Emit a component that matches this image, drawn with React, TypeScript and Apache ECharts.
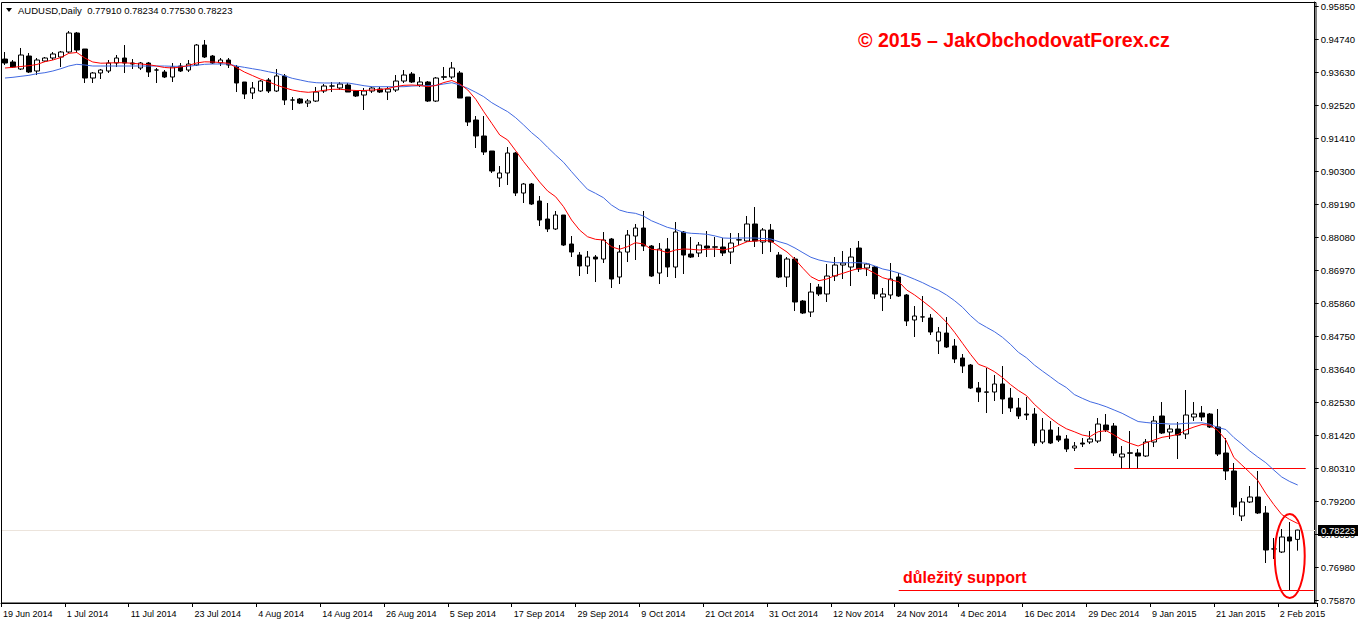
import React, { useEffect, useRef } from "react";
import * as echarts from "echarts";

const dates = [
"19 Jun 2014","20 Jun 2014","23 Jun 2014","24 Jun 2014","25 Jun 2014","26 Jun 2014","27 Jun 2014","30 Jun 2014",
"1 Jul 2014","2 Jul 2014","3 Jul 2014","4 Jul 2014","7 Jul 2014","8 Jul 2014","9 Jul 2014","10 Jul 2014",
"11 Jul 2014","14 Jul 2014","15 Jul 2014","16 Jul 2014","17 Jul 2014","18 Jul 2014","21 Jul 2014","22 Jul 2014",
"23 Jul 2014","24 Jul 2014","25 Jul 2014","28 Jul 2014","29 Jul 2014","30 Jul 2014","31 Jul 2014","1 Aug 2014",
"4 Aug 2014","5 Aug 2014","6 Aug 2014","7 Aug 2014","8 Aug 2014","11 Aug 2014","12 Aug 2014","13 Aug 2014",
"14 Aug 2014","15 Aug 2014","18 Aug 2014","19 Aug 2014","20 Aug 2014","21 Aug 2014","22 Aug 2014","25 Aug 2014",
"26 Aug 2014","27 Aug 2014","28 Aug 2014","29 Aug 2014","1 Sep 2014","2 Sep 2014","3 Sep 2014","4 Sep 2014",
"5 Sep 2014","8 Sep 2014","9 Sep 2014","10 Sep 2014","11 Sep 2014","12 Sep 2014","15 Sep 2014","16 Sep 2014",
"17 Sep 2014","18 Sep 2014","19 Sep 2014","22 Sep 2014","23 Sep 2014","24 Sep 2014","25 Sep 2014","26 Sep 2014",
"29 Sep 2014","30 Sep 2014","1 Oct 2014","2 Oct 2014","3 Oct 2014","6 Oct 2014","7 Oct 2014","8 Oct 2014",
"9 Oct 2014","10 Oct 2014","13 Oct 2014","14 Oct 2014","15 Oct 2014","16 Oct 2014","17 Oct 2014","20 Oct 2014",
"21 Oct 2014","22 Oct 2014","23 Oct 2014","24 Oct 2014","27 Oct 2014","28 Oct 2014","29 Oct 2014","30 Oct 2014",
"31 Oct 2014","3 Nov 2014","4 Nov 2014","5 Nov 2014","6 Nov 2014","7 Nov 2014","10 Nov 2014","11 Nov 2014",
"12 Nov 2014","13 Nov 2014","14 Nov 2014","17 Nov 2014","18 Nov 2014","19 Nov 2014","20 Nov 2014","21 Nov 2014",
"24 Nov 2014","25 Nov 2014","26 Nov 2014","27 Nov 2014","28 Nov 2014","1 Dec 2014","2 Dec 2014","3 Dec 2014",
"4 Dec 2014","5 Dec 2014","8 Dec 2014","9 Dec 2014","10 Dec 2014","11 Dec 2014","12 Dec 2014","15 Dec 2014",
"16 Dec 2014","17 Dec 2014","18 Dec 2014","19 Dec 2014","22 Dec 2014","23 Dec 2014","24 Dec 2014","26 Dec 2014",
"29 Dec 2014","30 Dec 2014","31 Dec 2014","2 Jan 2015","5 Jan 2015","6 Jan 2015","7 Jan 2015","8 Jan 2015",
"9 Jan 2015","12 Jan 2015","13 Jan 2015","14 Jan 2015","15 Jan 2015","16 Jan 2015","19 Jan 2015","20 Jan 2015",
"21 Jan 2015","22 Jan 2015","23 Jan 2015","26 Jan 2015","27 Jan 2015","28 Jan 2015","29 Jan 2015","30 Jan 2015",
"2 Feb 2015","3 Feb 2015","4 Feb 2015"];

const openP = [
.94067,.93967,.93731,.94168,.93664,.94000,.94101,.94135,
.94303,.94942,.94404,.93428,.93597,.93664,.93933,.94101,
.93933,.93765,.93933,.93697,.93630,.93462,.93832,.93697,
.93866,.94538,.94168,.93933,.94034,.93798,.93294,.92924,
.92991,.93361,.92991,.93496,.92688,.92722,.92587,.92654,
.92991,.93159,.93092,.93193,.92991,.92856,.92991,.93058,
.92957,.93025,.93327,.93563,.93193,.93294,.92654,.93470,
.93462,.93597,.92789,.92016,.91478,.90973,.90065,.90233,
.90906,.89560,.89863,.89291,.88686,.88350,.88820,.87845,
.87474,.87105,.87407,.87340,.88013,.86735,.87575,.88114,
.88383,.87777,.86869,.87676,.87071,.88248,.87508,.87542,
.87777,.87750,.87744,.87575,.87979,.87946,.88518,.87912,
.88316,.87474,.86735,.87340,.85927,.85557,.86398,.86163,
.86768,.87138,.87071,.87710,.87037,.87071,.86062,.86130,
.86735,.86130,.85289,.85389,.85356,.84582,.84851,.84414,
.84010,.83775,.83001,.82870,.82867,.83136,.82665,.82329,
.82127,.82127,.81185,.81589,.81387,.81286,.80983,.81151,
.81185,.81218,.81757,.81723,.80680,.80820,.80815,.80714,
.81185,.82060,.81521,.81622,.81454,.82026,.82160,.82127,
.81689,.80815,.80210,.78696,.79167,.79335,.78797,.77586,
.77485,.77990,.77910];

const closeP = [
.93933,.93798,.94202,.93630,.94034,.94101,.94236,.94303,
.94942,.94370,.93428,.93597,.93697,.93933,.94101,.93933,
.93899,.93933,.93630,.93697,.93462,.93798,.93664,.93899,
.94538,.94135,.93933,.94034,.93866,.93260,.92890,.93092,
.93327,.92991,.93496,.92688,.92688,.92587,.92654,.92957,
.93159,.93159,.93226,.92957,.92823,.92991,.93092,.92957,
.93058,.93327,.93529,.93294,.93294,.92654,.93428,.93455,
.93765,.92755,.91948,.91478,.90940,.90300,.90233,.90906,
.89560,.89863,.89190,.88652,.88350,.88820,.87811,.87575,
.87105,.87407,.87340,.87979,.86667,.87575,.88147,.88383,
.87777,.86768,.87676,.87071,.88248,.87474,.87407,.87811,
.87710,.87738,.87542,.87878,.87990,.88518,.87946,.88316,
.87912,.86735,.87340,.85894,.85524,.86230,.86163,.86768,
.87138,.87206,.87407,.87004,.87172,.86163,.86163,.86667,
.86096,.85255,.85423,.85395,.84885,.84885,.84380,.83977,
.83741,.83001,.82867,.82860,.83136,.82632,.82329,.82060,
.82093,.81151,.81589,.81151,.81252,.80949,.81050,.81117,
.81286,.81790,.81589,.80815,.80781,.80810,.80714,.81185,
.81891,.81488,.81622,.81420,.82093,.82127,.82026,.81689,
.80781,.80210,.78998,.79167,.79335,.78797,.77552,.77590,
.77990,.77855,.78223];

const lowP = [
.93866,.93765,.93697,.93597,.93529,.93967,.94034,.93798,
.94270,.94270,.93260,.93260,.93395,.93597,.93798,.93597,
.93731,.93697,.93462,.93260,.93428,.93294,.93630,.93630,
.93832,.94101,.93899,.93832,.93765,.92957,.92722,.92722,
.92957,.92924,.92957,.92520,.92352,.92553,.92453,.92621,
.92924,.92957,.93025,.92957,.92789,.92352,.92924,.92924,
.92688,.92957,.93260,.93260,.93126,.92621,.92621,.93361,
.93395,.92755,.91814,.91074,.90839,.90233,.89762,.89830,
.89459,.89224,.89157,.88450,.88248,.88316,.87777,.87407,
.86768,.86836,.86566,.87206,.86365,.86499,.87239,.87307,
.87609,.86735,.86499,.86735,.86701,.86836,.87374,.87407,
.87407,.87407,.87441,.87172,.87811,.87912,.87744,.87508,
.87575,.86701,.86398,.85591,.85490,.85389,.86096,.85894,
.86600,.86667,.86432,.86903,.86768,.85995,.85591,.85995,
.86062,.85087,.84717,.85221,.84784,.84145,.84347,.83842,
.83506,.82968,.82530,.82160,.82564,.82127,.82194,.81959,
.81925,.81050,.81117,.81117,.81185,.80848,.80882,.81016,
.81117,.81151,.81521,.80714,.80300,.80300,.80300,.80680,
.81016,.81454,.81286,.80613,.81286,.81891,.81891,.81656,
.80714,.79907,.78730,.78528,.79133,.78763,.77115,.77250,
.77451,.76207,.77530];

const highP = [
.94303,.94034,.94438,.94270,.94101,.94135,.94303,.94337,
.95009,.94976,.94404,.93630,.93731,.94034,.94202,.94538,
.94067,.93967,.93967,.93765,.93697,.93933,.93933,.94034,
.94572,.94707,.94202,.94101,.94101,.93866,.93294,.93294,
.93361,.93428,.93731,.93563,.92789,.92755,.92722,.93126,
.93226,.93294,.93294,.93260,.93025,.93092,.93126,.93126,
.93126,.93529,.93697,.93630,.93462,.93327,.93462,.93798,
.93967,.93664,.92789,.92150,.92150,.90973,.90468,.91107,
.90940,.89897,.89897,.89459,.89224,.88955,.88820,.88114,
.87575,.87609,.87474,.88248,.88047,.87811,.88316,.88518,
.88955,.87811,.87878,.88047,.88585,.88282,.88080,.87912,
.88282,.88080,.88047,.88215,.88215,.88787,.89089,.88383,
.88518,.87575,.87407,.87407,.85961,.86533,.86499,.87172,
.87407,.87609,.87710,.87946,.87206,.87105,.86365,.87206,
.86869,.86163,.85759,.86096,.85490,.85053,.85389,.84650,
.84145,.83808,.83203,.83674,.83439,.83741,.83001,.82665,
.82699,.82329,.81992,.81891,.81689,.81420,.81185,.81319,
.81555,.81992,.82127,.81824,.81050,.81555,.80949,.81286,
.82060,.82530,.81757,.81858,.82934,.82530,.82396,.82160,
.82295,.81319,.80478,.79301,.79705,.80210,.79032,.77956,
.78259,.78494,.78234];

const maFast = [
.93765,.93788,.93815,.93842,.93883,.93977,.94034,.94118,
.94259,.94286,.94101,.93967,.93926,.93933,.93943,.93940,
.93923,.93899,.93876,.93832,.93782,.93765,.93798,.93849,
.93933,.93973,.93967,.93950,.93923,.93782,.93630,.93512,
.93395,.93304,.93193,.93102,.93025,.92974,.92947,.92974,
.93015,.93048,.93048,.93025,.93008,.93008,.93025,.93042,
.93075,.93142,.93183,.93193,.93176,.93136,.93176,.93277,
.93344,.93227,.93025,.92712,.92295,.91905,.91511,.91343,
.90983,.90613,.90277,.89930,.89628,.89436,.89099,.88652,
.88316,.88090,.88003,.87979,.87754,.87667,.87754,.87889,
.87845,.87667,.87643,.87552,.87643,.87677,.87667,.87643,
.87667,.87677,.87643,.87700,.87811,.87922,.87946,.87963,
.87946,.87754,.87576,.87330,.87027,.86745,.86610,.86668,
.86779,.86859,.86947,.87027,.87004,.86859,.86711,.86634,
.86577,.86298,.86129,.85928,.85716,.85480,.85211,.84875,
.84505,.84135,.83798,.83698,.83550,.83354,.83119,.82917,
.82749,.82453,.82211,.81992,.81790,.81632,.81531,.81420,
.81370,.81531,.81565,.81420,.81252,.81141,.81050,.81161,
.81252,.81343,.81387,.81437,.81589,.81689,.81773,.81747,
.81572,.81252,.80663,.80411,.80159,.79890,.79459,.79083,
.78746,.78578,.78444];

const maSlow = [
.93428,.93452,.93486,.93519,.93573,.93607,.93664,.93741,
.93832,.93889,.93866,.93832,.93832,.93832,.93832,.93832,
.93832,.93832,.93832,.93832,.93832,.93822,.93822,.93822,
.93856,.93889,.93899,.93899,.93899,.93832,.93788,.93741,
.93697,.93640,.93587,.93506,.93418,.93361,.93304,.93270,
.93260,.93260,.93260,.93260,.93216,.93169,.93136,.93136,
.93136,.93136,.93136,.93159,.93169,.93169,.93183,.93227,
.93270,.93193,.93082,.92947,.92799,.92598,.92443,.92295,
.92093,.91848,.91589,.91367,.91097,.90838,.90593,.90277,
.89974,.89685,.89550,.89402,.89157,.88988,.88911,.88877,
.88787,.88629,.88518,.88407,.88339,.88238,.88205,.88191,
.88171,.88114,.88047,.88037,.88047,.88047,.88047,.88030,
.88013,.87922,.87845,.87710,.87552,.87398,.87307,.87250,
.87216,.87216,.87216,.87216,.87196,.87105,.87004,.86947,
.86869,.86769,.86658,.86543,.86409,.86288,.86129,.85938,
.85716,.85433,.85198,.85043,.84895,.84707,.84471,.84202,
.84020,.83775,.83573,.83381,.83180,.83018,.82783,.82655,
.82540,.82463,.82372,.82261,.82150,.82009,.81874,.81841,
.81814,.81807,.81790,.81790,.81814,.81824,.81831,.81780,
.81673,.81605,.81336,.81118,.80882,.80680,.80489,.80243,
.80008,.79856,.79739];

const priceTicks = [0.75870, 0.76980, 0.78090, 0.79200, 0.80310, 0.81420, 0.82530, 0.83640, 0.84750,
  0.85860, 0.86970, 0.88080, 0.89190, 0.90300, 0.91410, 0.92520, 0.93630, 0.94740, 0.95850];

const symbolName = "AUDUSD,Daily";
const lastBar = { open: 0.77910, high: 0.78234, low: 0.77530, close: 0.78223 };
const supportLevel = 0.76207;
const resistanceLevel = 0.80310;
const watermark = "© 2015 – JakObchodovatForex.cz";
const supportText = "důležitý support";

const FONT = "'Liberation Sans', Arial, sans-serif";

export default function App() {
  const ref = useRef<HTMLDivElement>(null);
  useEffect(() => {
    const chart = echarts.init(ref.current!, null, { renderer: "svg" });
    const candles = openP.map((o, i) => [o, closeP[i], lowP[i], highP[i]]);
    const cats = [...dates, "", ""];
    chart.setOption({
      animation: false,
      backgroundColor: "#ffffff",
      grid: { left: -1, top: 2, width: 1320, height: 601, show: false },
      xAxis: {
        type: "category",
        data: cats,
        boundaryGap: true,
        axisLine: { show: true, lineStyle: { color: "#000", width: 1 } },
        axisTick: { show: true, interval: 7, alignWithLabel: false, length: 4, lineStyle: { color: "#000" } },
        axisLabel: { interval: 7, align: "left", color: "#000", fontSize: 9, fontFamily: FONT, margin: 6, padding: [0, 0, 0, -2] },
        splitLine: { show: false },
      },
      yAxis: {
        type: "value",
        position: "right",
        offset: -3,
        min: 0.7577,
        max: 0.95985,
        scale: true,
        axisLine: { show: true, lineStyle: { color: "#000", width: 1 } },
        axisTick: { show: true, customValues: priceTicks, length: 4, lineStyle: { color: "#000" } },
        axisLabel: {
          customValues: priceTicks,
          formatter: (v: number) => v.toFixed(5),
          color: "#000",
          fontSize: 9.5,
          fontFamily: FONT,
          margin: 6,
        },
        splitLine: { show: false },
      },
      series: [
        {
          type: "candlestick",
          data: candles,
          barWidth: 5,
          itemStyle: { color: "#ffffff", color0: "#000000", borderColor: "#000000", borderColor0: "#000000", borderWidth: 1 },
          markLine: {
            silent: true,
            symbol: ["none", "none"],
            label: { show: false },
            data: [
              [{ yAxis: lastBar.close, x: 1, lineStyle: { color: "#ece4dc", width: 1, type: "solid" } }, { yAxis: lastBar.close, x: 1316 }],
              [{ coord: [112, supportLevel], lineStyle: { color: "#ff0000", width: 1, type: "solid" } }, { coord: [164, supportLevel] }],
              [{ coord: [134, resistanceLevel], lineStyle: { color: "#ff0000", width: 1, type: "solid" } }, { coord: [163, resistanceLevel] }],
            ],
            z: 1,
          },
          z: 2,
        },
        {
          type: "line",
          data: maSlow,
          showSymbol: false,
          symbol: "none",
          lineStyle: { color: "#4169e1", width: 1 },
          z: 3,
        },
        {
          type: "line",
          data: maFast,
          showSymbol: false,
          symbol: "none",
          lineStyle: { color: "#ff0000", width: 1 },
          z: 4,
        },
      ],
    });

    const c = chart.convertToPixel({ gridIndex: 0 }, [161, 0.7735]) as number[];
    chart.setOption({
      graphic: [
        { id: "frame", type: "rect", shape: { x: 1.5, y: 2.5, width: 1314.5, height: 600.5 }, style: { fill: "none", stroke: "#000", lineWidth: 1 }, z: 50, silent: true },
        { id: "tri", type: "polygon", shape: { points: [[6, 8], [12, 8], [9, 12]] }, style: { fill: "#000" }, z: 50 },
        { id: "hdr", type: "text", x: 18, y: 10, style: { text: `${symbolName}  ${lastBar.open.toFixed(5)} ${lastBar.high.toFixed(5)} ${lastBar.low.toFixed(5)} ${lastBar.close.toFixed(5)}`, fill: "#000", font: `9.5px ${FONT}`, textVerticalAlign: "middle" }, z: 50 },
        { id: "wm", type: "text", x: 858, y: 40, style: { text: watermark, fill: "#ff0000", font: `bold 19.6px ${FONT}`, textVerticalAlign: "middle" }, z: 50 },
        { id: "sup", type: "text", x: 903, y: 577, style: { text: supportText, fill: "#ff0000", font: `bold 16px ${FONT}`, textVerticalAlign: "middle" }, z: 50 },
        { id: "ell", type: "ellipse", shape: { cx: c[0], cy: c[1], rx: 15, ry: 42 }, style: { fill: "none", stroke: "#ff0000", lineWidth: 2 }, z: 60 },
        { id: "pbox", type: "rect", shape: { x: 1318, y: 525, width: 40, height: 11 }, style: { fill: "#000" }, z: 100 },
        { id: "ptxt", type: "text", x: 1321, y: 530.5, style: { text: lastBar.close.toFixed(5), fill: "#fff", font: `9.5px ${FONT}`, textVerticalAlign: "middle" }, z: 101 },
      ],
    });
    return () => chart.dispose();
  }, []);
  return <div ref={ref} style={{ position: "absolute", left: 0, top: 0, width: 1358, height: 623 }} />;
}
